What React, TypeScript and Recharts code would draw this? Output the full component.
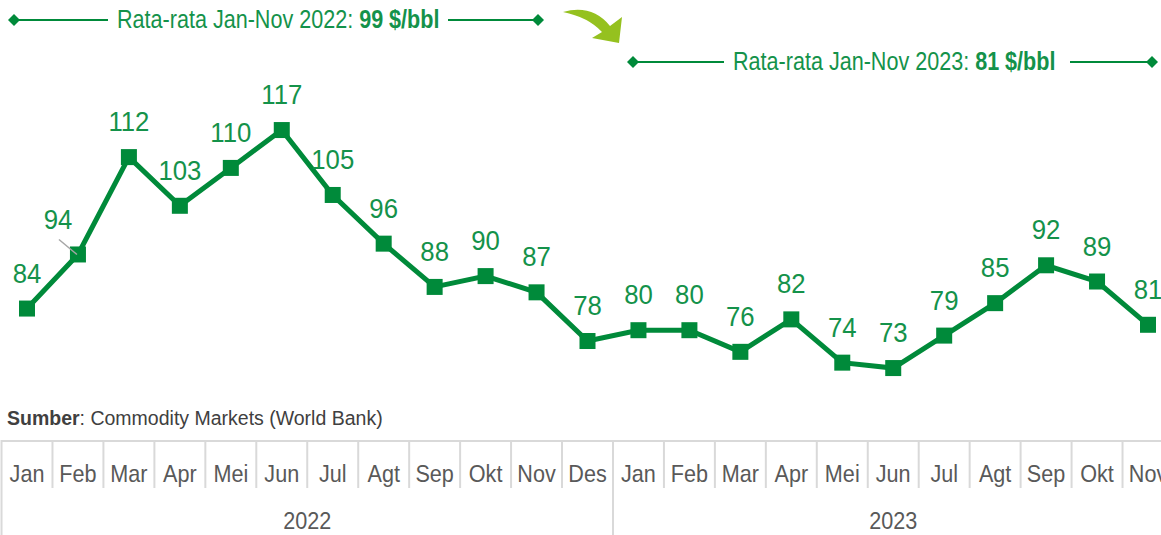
import React from 'react'
import { LabelList, Line, LineChart, XAxis, YAxis } from 'recharts'

const months = ['Jan', 'Feb', 'Mar', 'Apr', 'Mei', 'Jun', 'Jul', 'Agt', 'Sep', 'Okt', 'Nov', 'Des', 'Jan', 'Feb', 'Mar', 'Apr', 'Mei', 'Jun', 'Jul', 'Agt', 'Sep', 'Okt', 'Nov']
const prices = [84, 94, 112, 103, 110, 117, 105, 96, 88, 90, 87, 78, 80, 80, 76, 82, 74, 73, 79, 85, 92, 89, 81]
const years = ['2022', '2023']
const yearCenters = [5.5, 17]
const yearStarts = [0, 12]
const avg2022 = 99
const avg2023 = 81

const data = prices.map((price, i) => ({ idx: i, month: months[i], price }))

const FONT = "'Liberation Sans', Arial, sans-serif"
const LINE_GREEN = '#008a3a'
const TEXT_GREEN = '#14924a'
const GRID = '#d9d9d9'
const HALF_STEP = 1121 / 22 / 2

// narrow look: squeeze the text horizontally
const Narrow = ({ x, y, sx, children, ...rest }: any) => (
  <g transform={`translate(${x},${y}) scale(${sx},1)`}>
    <text x={0} y={0} fontFamily={FONT} {...rest}>
      {children}
    </text>
  </g>
)

const MonthTick = (props: any) => {
  const { x, y, payload } = props
  const i = payload.value
  const left = x - HALF_STEP
  const full = yearStarts.includes(i)
  return (
    <g>
      <line x1={left} x2={x + HALF_STEP} y1={y + 1} y2={y + 1} stroke={GRID} strokeWidth={2} />
      <line x1={left} x2={left} y1={y} y2={full ? y + 95 : y + 48} stroke={GRID} strokeWidth={2} />
      <Narrow x={x} y={y + 42} sx={0.9} textAnchor="middle" fill="#595959" fontSize={24}>
        {months[i]}
      </Narrow>
    </g>
  )
}

const YearTick = (props: any) => {
  const { x, y, payload } = props
  const k = yearCenters.indexOf(payload.value)
  return (
    <Narrow x={x} y={y + 29} sx={0.9} textAnchor="middle" fill="#595959" fontSize={24}>
      {years[k]}
    </Narrow>
  )
}

const SquareDot = (props: any) => {
  const { cx, cy, index } = props
  return <rect key={index} x={cx - 8} y={cy - 8} width={16} height={16} fill={LINE_GREEN} />
}

const PriceLabel = (props: any) => {
  const { x, y, value, index } = props
  if (index === 1) {
    return (
      <g>
        <line x1={x - 19} y1={y - 15} x2={x - 1} y2={y} stroke="#a6a6a6" strokeWidth={1.5} />
        <Narrow x={x - 20} y={y - 25} sx={0.92} textAnchor="middle" fill={TEXT_GREEN} fontSize={28}>
          {value}
        </Narrow>
      </g>
    )
  }
  return (
    <Narrow x={x} y={y - 26} sx={0.92} textAnchor="middle" fill={TEXT_GREEN} fontSize={28}>
      {value}
    </Narrow>
  )
}

const Diamond = ({ x, y }: { x: number; y: number }) => (
  <polygon points={`${x - 6},${y} ${x},${y - 6} ${x + 6},${y} ${x},${y + 6}`} fill={LINE_GREEN} />
)

const AvgNote = ({ x1, x2, tx1, tx2, y, label, value }: any) => (
  <g>
    <line x1={x1} x2={tx1} y1={y} y2={y} stroke={LINE_GREEN} strokeWidth={2} />
    <line x1={tx2} x2={x2} y1={y} y2={y} stroke={LINE_GREEN} strokeWidth={2} />
    <Diamond x={x1} y={y} />
    <Diamond x={x2} y={y} />
    <Narrow x={tx1 + 9} y={y + 8} sx={0.83} fill={TEXT_GREEN} fontSize={26}>
      {label}
      <tspan fontWeight="bold">{value} $/bbl</tspan>
    </Narrow>
  </g>
)

const App = () => {
  return (
    <div style={{ position: 'absolute', left: 0, top: 0, width: 1161, height: 535, background: '#fff' }}>
      <LineChart width={1161} height={535} data={data} margin={{ top: 50, right: 13, bottom: 0, left: 27 }}>
        <YAxis hide domain={[59.7, 131.8]} />
        <XAxis
          dataKey="idx"
          type="number"
          domain={[0, 22]}
          ticks={months.map((_, i) => i)}
          interval={0}
          height={60}
          axisLine={false}
          tickLine={false}
          tickSize={0}
          tickMargin={0}
          tick={<MonthTick />}
        />
        <XAxis
          xAxisId="year"
          type="number"
          domain={[0, 22]}
          ticks={yearCenters}
          interval={0}
          height={35}
          axisLine={false}
          tickLine={false}
          tickSize={0}
          tickMargin={0}
          tick={<YearTick />}
        />
        <Line
          dataKey="price"
          stroke={LINE_GREEN}
          strokeWidth={5}
          dot={<SquareDot />}
          activeDot={false}
          isAnimationActive={false}
        >
          <LabelList dataKey="price" content={<PriceLabel />} />
        </Line>
        <AvgNote x1={14} x2={538} tx1={108} tx2={448} y={20} label="Rata-rata Jan-Nov 2022: " value={avg2022} />
        <AvgNote x1={633} x2={1152} tx1={724} tx2={1070} y={62} label="Rata-rata Jan-Nov 2023: " value={avg2023} />
        <path
          d="M 563 12 Q 592 4 610 26 L 622 17 L 619 43 L 592 38 L 602 32 Q 588 17 563 12 Z"
          fill="#95c11f"
        />
        <text x={7} y={425} fill="#404040" fontSize={19.5} fontFamily={FONT}>
          <tspan fontWeight="bold">Sumber</tspan>: Commodity Markets (World Bank)
        </text>
      </LineChart>
    </div>
  )
}

export default App
